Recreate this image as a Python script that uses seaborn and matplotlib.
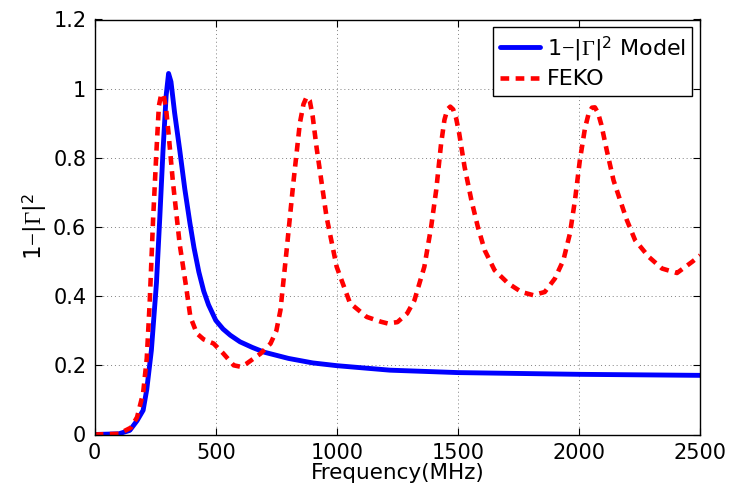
import matplotlib
matplotlib.use("Agg")
import matplotlib.pyplot as plt
import seaborn as sns
import pandas as pd
from matplotlib.ticker import FormatStrFormatter

# ---- data ----
model_freq = [0, 100, 145, 175, 200, 215, 234, 255, 269, 282, 295, 305, 315, 330, 351,
              372, 393, 410, 430, 450, 470, 500, 530, 560, 600, 650, 700, 800, 900,
              1000, 1219, 1500, 2000, 2500]
model_val = [0, 0.002, 0.012, 0.04, 0.07, 0.13, 0.243, 0.438, 0.63, 0.82, 0.98, 1.044,
             1.02, 0.93, 0.823, 0.71, 0.612, 0.54, 0.47, 0.415, 0.375, 0.33, 0.305,
             0.287, 0.268, 0.252, 0.238, 0.22, 0.207, 0.199, 0.186, 0.179, 0.174, 0.171]

feko_freq = [0, 100, 150, 175, 200, 215, 227, 241, 255, 265, 275, 285, 295, 305, 323,
             351, 379, 395, 422, 450, 491, 530, 574, 602, 627, 685, 726, 750, 767, 792,
             819, 847, 862, 875, 888, 900, 916, 957, 999, 1054, 1123, 1182, 1210, 1250,
             1290, 1320, 1361, 1389, 1410, 1430, 1444, 1456, 1468, 1480, 1492, 1505,
             1527, 1555, 1582, 1610, 1651, 1707, 1762, 1810, 1858, 1900, 1935, 1962,
             1983, 2003, 2024, 2040, 2053, 2065, 2078, 2092, 2114, 2142, 2169, 2197,
             2231, 2287, 2342, 2404, 2466, 2500]
feko_val = [0, 0.002, 0.02, 0.05, 0.12, 0.22, 0.38, 0.62, 0.82, 0.95, 0.985, 0.98,
            0.94, 0.87, 0.73, 0.55, 0.42, 0.34, 0.292, 0.275, 0.263, 0.235, 0.20,
            0.196, 0.205, 0.234, 0.263, 0.30, 0.36, 0.53, 0.72, 0.90, 0.955, 0.976,
            0.965, 0.92, 0.83, 0.63, 0.485, 0.38, 0.34, 0.326, 0.321, 0.325, 0.35,
            0.388, 0.485, 0.60, 0.707, 0.84, 0.91, 0.94, 0.948, 0.94, 0.915, 0.87,
            0.774, 0.678, 0.60, 0.533, 0.475, 0.437, 0.412, 0.403, 0.412, 0.451, 0.504,
            0.581, 0.678, 0.793, 0.885, 0.93, 0.945, 0.946, 0.93, 0.895, 0.822, 0.735,
            0.678, 0.62, 0.562, 0.514, 0.48, 0.467, 0.499, 0.518]

x_ticks = [0, 500, 1000, 1500, 2000, 2500]
y_ticks = [0, 0.2, 0.4, 0.6, 0.8, 1.0, 1.2]

model_label = r"1$-$|$\mathrm{\Gamma}$|$^{\mathsf{2}}$ Model"
feko_label = "FEKO"
x_label = "Frequency(MHz)"
y_label = r"1$-$|$\mathrm{\Gamma}$|$^{\mathsf{2}}$"

# ---- style ----
sns.set_style("ticks")
plt.rcParams["font.family"] = ["DejaVu Sans"]
plt.rcParams["mathtext.fontset"] = "custom"
plt.rcParams["mathtext.rm"] = "Liberation Serif"
plt.rcParams["mathtext.sf"] = "DejaVu Sans"
plt.rcParams["mathtext.it"] = "Liberation Serif:italic"
for k in ["text.color", "axes.labelcolor", "xtick.color", "ytick.color",
          "xtick.labelcolor", "ytick.labelcolor"]:
    plt.rcParams[k] = "black"

FS = 15

fig = plt.figure(figsize=(7.34, 5.0), dpi=100)
ax = fig.add_axes([0.129, 0.131, 0.825, 0.830])

df_model = pd.DataFrame({"f": model_freq, "v": model_val})
df_feko = pd.DataFrame({"f": feko_freq, "v": feko_val})

sns.lineplot(data=df_model, x="f", y="v", ax=ax, color="#0000ff", linewidth=3.5,
             estimator=None, sort=False, label=model_label)
sns.lineplot(data=df_feko, x="f", y="v", ax=ax, color="#ff0000", linewidth=3.3,
             estimator=None, sort=False, label=feko_label)
ax.lines[-1].set_dashes([1.9, 1.4])
ax.lines[-1].set_dash_capstyle("butt")
for ln in ax.lines:
    ln.set_solid_joinstyle("round")
    ln.set_dash_joinstyle("round")

ax.set_xlim(0, 2500)
ax.set_ylim(0, 1.2)
ax.set_xticks(x_ticks)
ax.set_yticks(y_ticks)
ax.yaxis.set_major_formatter(FormatStrFormatter("%g"))
ax.tick_params(direction="in", length=5, width=0.8, top=True, right=True,
               labelsize=FS, colors="black")
ax.tick_params(axis="x", pad=6)
ax.tick_params(axis="y", pad=6)
for s in ax.spines.values():
    s.set_visible(True)
    s.set_linewidth(1.0)
    s.set_color("black")
ax.grid(True, linestyle=(0, (1, 3)), color="#808080", linewidth=0.7)

ax.set_xlabel(x_label, fontsize=FS + 0.5, labelpad=0)
ax.set_ylabel(y_label, fontsize=FS + 1.5, labelpad=3)

leg = ax.legend(loc="upper right", fontsize=FS + 1, frameon=True, fancybox=False,
                edgecolor="black", framealpha=1, borderaxespad=0.35,
                handlelength=1.8, handletextpad=0.3, borderpad=0.3, labelspacing=0.3)
leg.get_frame().set_linewidth(1.0)

fig.savefig("out.png", dpi=100)
